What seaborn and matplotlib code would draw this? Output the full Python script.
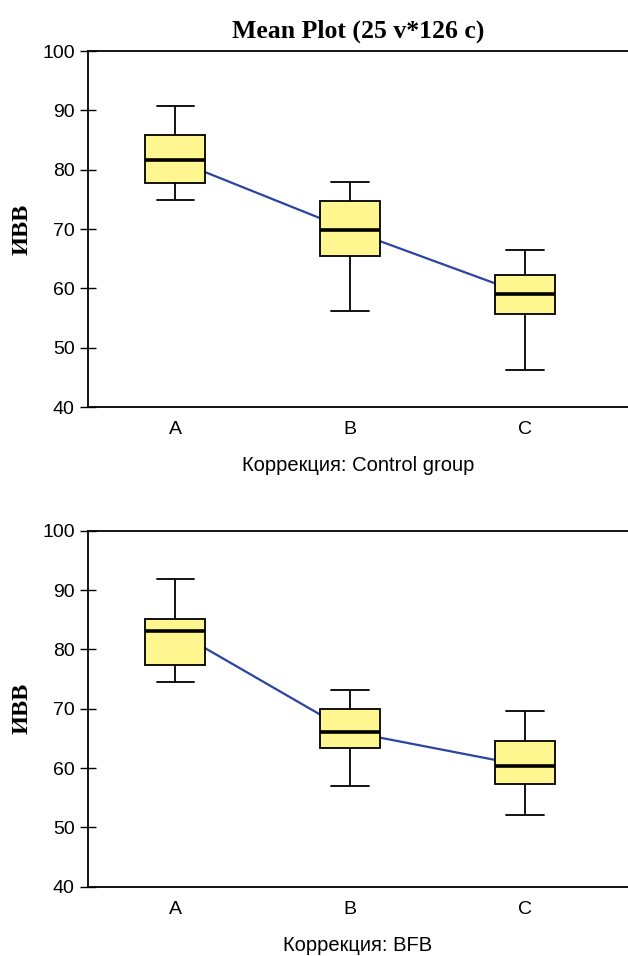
import numpy as np
import pandas as pd
import matplotlib
matplotlib.use("Agg")
import matplotlib.pyplot as plt
import seaborn as sns

sns.set_style("white")
plt.rcParams['font.family'] = ['Liberation Sans', 'DejaVu Sans']
plt.rcParams.update({
    "text.color": "black",
    "axes.labelcolor": "black",
    "xtick.color": "black",
    "ytick.color": "black",
})

categories = ["A", "B", "C"]
# five-number summaries per category: [min, q1, median, q3, max]
control_A = [74.9, 77.7, 81.6, 85.9, 90.7]
control_B = [56.2, 65.5, 69.8, 74.7, 77.9]
control_C = [46.2, 55.6, 59.0, 62.2, 66.4]
bfb_A = [74.5, 77.3, 83.1, 85.1, 91.9]
bfb_B = [57.0, 63.4, 66.1, 69.9, 73.1]
bfb_C = [52.1, 57.3, 60.4, 64.5, 69.6]

panels = [
    ("Коррекция: Control group", [control_A, control_B, control_C]),
    ("Коррекция: BFB", [bfb_A, bfb_B, bfb_C]),
]
yticks = [40, 50, 60, 70, 80, 90, 100]

fig = plt.figure(figsize=(6.28, 9.56), dpi=100)
W, H = 628, 956
axes_px = [(88, 51, 628, 407), (88, 530.7, 628, 886.7)]

for (xlab, groups), (l, t, r, b) in zip(panels, axes_px):
    ax = fig.add_axes([l / W, 1 - b / H, (r - l) / W, (b - t) / H])
    rows = []
    for cat, vals in zip(categories, groups):
        for v in vals:
            rows.append({"cat": cat, "val": v})
    df = pd.DataFrame(rows)

    sns.pointplot(data=df, x="cat", y="val", order=categories,
                  estimator="median", errorbar=None, markers="",
                  color="#2a44a0", linewidth=1.6, ax=ax)
    for ln in ax.lines:
        ln.set_zorder(1)
    sns.boxplot(data=df, x="cat", y="val", order=categories,
                whis=(0, 100), width=0.345, color="#fff690",
                saturation=1, fill=True,
                linecolor="black", linewidth=1.3,
                medianprops=dict(color="black", linewidth=2.6),
                capwidths=0.215, ax=ax)
    for p in ax.patches:
        p.set_zorder(3)
    for ln in ax.lines[1:]:
        ln.set_zorder(4)

    ax.set_xlim(-0.5, -0.5 + (r - l) / 174.7)
    ax.set_ylim(40, 100)
    ax.set_yticks(yticks)
    ax.set_yticklabels([str(v) for v in yticks], fontsize=14)
    ax.set_xticks([0, 1, 2])
    ax.set_xticklabels(categories, fontsize=14)
    ax.set_xticks([-0.5, 0.5, 1.5], minor=True)
    ax.tick_params(axis="x", which="major", length=0, pad=10)
    ax.tick_params(axis="x", which="minor", direction="inout", length=12,
                   width=1, color="black")
    ax.tick_params(axis="y", direction="inout", length=11, width=1,
                   color="black", pad=4, left=True)
    for side in ["left", "bottom", "top"]:
        ax.spines[side].set_visible(True)
        ax.spines[side].set_color("black")
        ax.spines[side].set_linewidth(1.3)
    ax.spines["right"].set_visible(False)
    ax.set_xlabel(xlab, fontsize=14.5, labelpad=13)
    ax.set_ylabel("ИВВ", fontsize=17.5, fontweight="bold",
                  family=["Liberation Serif", "DejaVu Serif"])
    ax.yaxis.set_label_coords((33 - l) / (r - l), 0.5)
    ax.grid(False)

fig.text(358.5 / W, 1 - 38 / H, "Mean Plot (25 v*126 c)", ha="center",
         va="baseline", fontsize=18.5, fontweight="bold",
         family=["Liberation Serif", "DejaVu Serif"])

fig.savefig("out.png", dpi=100)
